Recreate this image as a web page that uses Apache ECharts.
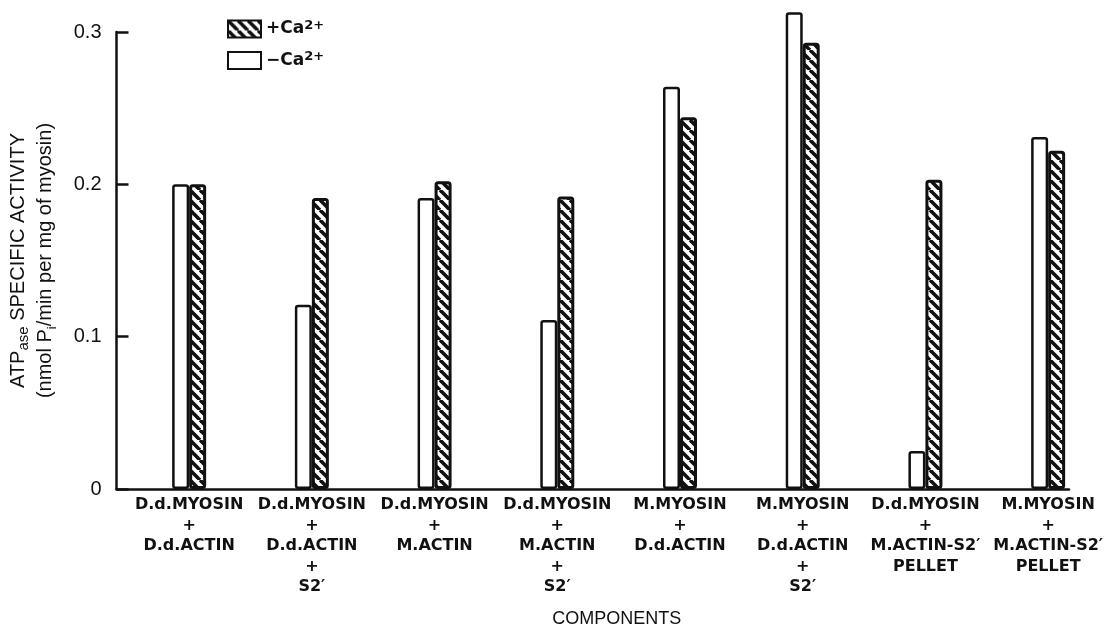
<!DOCTYPE html>
<html>
<head>
<meta charset="utf-8">
<script src="https://cdn.jsdelivr.net/npm/echarts@6/dist/echarts.min.js"></script>
<style>
html,body{margin:0;padding:0;background:#fff;}
#chart{width:1110px;height:633px;}
</style>
</head>
<body>
<div id="chart"></div>
<script>
// ---- data ----
var categories = [
  'D.d.MYOSIN\n+\nD.d.ACTIN',
  'D.d.MYOSIN\n+\nD.d.ACTIN\n+\nS2\u2032',
  'D.d.MYOSIN\n+\nM.ACTIN',
  'D.d.MYOSIN\n+\nM.ACTIN\n+\nS2\u2032',
  'M.MYOSIN\n+\nD.d.ACTIN',
  'M.MYOSIN\n+\nD.d.ACTIN\n+\nS2\u2032',
  'D.d.MYOSIN\n+\nM.ACTIN-S2\u2032\nPELLET',
  'M.MYOSIN\n+\nM.ACTIN-S2\u2032\nPELLET'
];
var minusCa = [0.200, 0.121, 0.191, 0.111, 0.264, 0.313, 0.025, 0.231];
var plusCa  = [0.200, 0.191, 0.202, 0.192, 0.244, 0.293, 0.203, 0.222];
var yTickLabels = ['0', '0.1', '0.2', '0.3'];
var seriesNames = ['+Ca2+', '\u2212Ca2+'];

// ---- hatch pattern ----
function makeHatch() {
  var s = 10;
  var c = document.createElement('canvas');
  c.width = s; c.height = s;
  var ctx = c.getContext('2d');
  ctx.fillStyle = '#fff';
  ctx.fillRect(0, 0, s, s);
  ctx.strokeStyle = '#111';
  ctx.lineWidth = 3.6;
  [-s, 0, s].forEach(function (k) {
    ctx.beginPath();
    ctx.moveTo(k, 0);
    ctx.lineTo(k + s, s);
    ctx.stroke();
  });
  return c;
}
var hatch = { image: makeHatch(), repeat: 'repeat' };

function pairs(arr) { return arr.map(function (v, i) { return [i, v]; }); }

var chart = echarts.init(document.getElementById('chart'), null, { renderer: 'canvas' });
chart.setOption({
  animation: false,
  backgroundColor: '#fff',
  textStyle: { fontFamily: 'Liberation Sans', color: '#111' },
  grid: { left: 112, right: 41, top: 32, bottom: 140, containLabel: false },
  legend: {
    data: [seriesNames[0], seriesNames[1]],
    orient: 'vertical',
    left: 222,
    top: 14,
    itemWidth: 33,
    itemHeight: 17,
    itemGap: 12,
    icon: 'rect',
    formatter: function (name) {
      return name === seriesNames[0] ? '{a|+Ca}{s|2+}' : '{a|\u2212Ca}{s|2+}';
    },
    textStyle: {
      rich: {
        a: { fontFamily: 'DejaVu Sans', fontWeight: 'bold', fontSize: 17, color: '#111', lineHeight: 20 },
        s: { fontFamily: 'DejaVu Sans', fontWeight: 'bold', fontSize: 13, color: '#111', verticalAlign: 'top', lineHeight: 12 }
      }
    }
  },
  xAxis: {
    type: 'value',
    min: -0.592,
    max: 7.17,
    splitLine: { show: false },
    axisTick: { show: false },
    axisLine: { show: true, onZero: false, lineStyle: { color: '#111', width: 2.5 } },
    axisLabel: {
      customValues: [0, 1, 2, 3, 4, 5, 6, 7],
      formatter: function (v) { return categories[Math.round(v)]; },
      margin: 6,
      fontFamily: 'DejaVu Sans',
      fontWeight: 'bold',
      fontSize: 16,
      lineHeight: 20.5,
      color: '#111'
    },
    name: 'COMPONENTS',
    nameLocation: 'middle',
    nameGap: 121,
    nameTextStyle: { fontFamily: 'Liberation Sans', fontSize: 18, color: '#111', padding: [0, 0, 0, 48] }
  },
  yAxis: {
    type: 'value',
    min: 0,
    max: 0.3,
    interval: 0.1,
    splitLine: { show: false },
    axisLine: { show: true, onZero: false, lineStyle: { color: '#111', width: 2.5 } },
    axisTick: { show: true, inside: true, length: 12, lineStyle: { color: '#111', width: 2.5 } },
    axisLabel: {
      margin: 15,
      fontSize: 20,
      color: '#111',
      fontFamily: 'Liberation Sans',
      formatter: function (v) { return yTickLabels[Math.round(v * 10)]; }
    },
    name: '{t|ATP}{sm|ase}{t| SPECIFIC ACTIVITY}\n{t|(nmol P}{sub|i}{t|/min per mg of myosin)}',
    nameLocation: 'middle',
    nameRotate: 90,
    nameGap: 58,
    nameTextStyle: {
      rich: {
        t: { fontFamily: 'Liberation Sans', fontSize: 20, color: '#111', lineHeight: 27 },
        sm: { fontFamily: 'Liberation Sans', fontSize: 15, color: '#111', lineHeight: 24, verticalAlign: 'bottom' },
        sub: { fontFamily: 'Liberation Sans', fontSize: 13, color: '#111', lineHeight: 19, verticalAlign: 'bottom' }
      }
    }
  },
  series: [
    {
      name: seriesNames[1],
      type: 'bar',
      data: pairs(minusCa),
      barWidth: 17,
      barGap: '0%',
      clip: false,
      itemStyle: { color: '#fff', borderColor: '#111', borderWidth: 2.5, borderRadius: 2 }
    },
    {
      name: seriesNames[0],
      type: 'bar',
      data: pairs(plusCa),
      barWidth: 17,
      barGap: '0%',
      clip: false,
      itemStyle: { color: hatch, borderColor: '#111', borderWidth: 3, borderRadius: 2 }
    }
  ]
});
</script>
</body>
</html>
